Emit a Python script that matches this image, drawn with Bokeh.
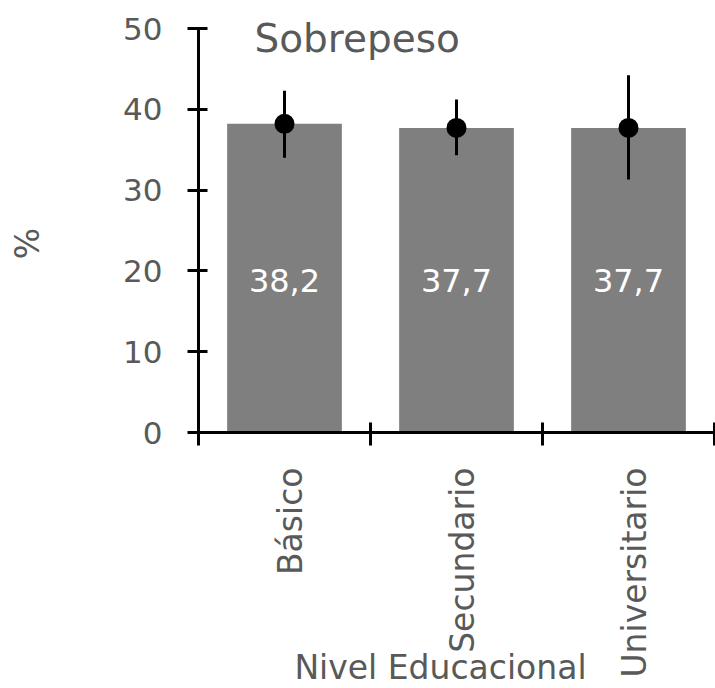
from bokeh.plotting import figure
from bokeh.models import Range1d, FixedTicker, Label, ColumnDataSource, LinearAxis
from bokeh.core.properties import value
from bokeh.embed import file_html
from bokeh.resources import INLINE
import math

categories = ["Básico", "Secundario", "Universitario"]
values = [38.2, 37.7, 37.7]
lower = [34.0, 34.3, 31.3]
upper = [42.3, 41.2, 44.2]
value_labels = ["38,2", "37,7", "37,7"]
y_ticks = [0, 10, 20, 30, 40, 50]
title_text = "Sobrepeso"
x_title = "Nivel Educacional"
y_title = "%"

FONT = "DejaVu Sans"
GRAY = "#595959"

W, H = 715, 688
X0_PX, Y0_PX = 198.0, 432.0      # pixel position of the origin
PX_PER_CAT, PX_PER_UNIT = 172.0, 8.08

xc = [i + 0.5 for i in range(len(categories))]
label_y = (Y0_PX - 280) / PX_PER_UNIT
src = ColumnDataSource(dict(x=xc, top=values, lo=lower, hi=upper,
                            lab=value_labels, ly=[label_y] * len(xc)))

p = figure(width=W, height=H, output_backend="svg", toolbar_location=None,
           x_range=Range1d(-X0_PX / PX_PER_CAT, (W - X0_PX) / PX_PER_CAT),
           y_range=Range1d(-(H - Y0_PX) / PX_PER_UNIT, Y0_PX / PX_PER_UNIT),
           min_border=0, x_axis_type=None, y_axis_type=None)
p.outline_line_color = None
p.grid.visible = False
p.background_fill_color = "white"
p.border_fill_color = "white"

# y axis
ya = LinearAxis(ticker=FixedTicker(ticks=y_ticks), bounds=(0, 50), fixed_location=0)
ya.axis_line_width = 3
ya.axis_line_color = "black"
ya.major_tick_line_width = 3
ya.major_tick_out = 11
ya.major_tick_in = 9
ya.minor_tick_line_color = None
ya.major_label_text_font = FONT
ya.major_label_text_font_size = "31px"
ya.major_label_text_color = GRAY
ya.major_label_standoff = 25
p.add_layout(ya, "left")

# x axis
lab_pos = [x + 0.035 for x in xc]
xa = LinearAxis(ticker=FixedTicker(ticks=lab_pos, minor_ticks=[0, 1, 2, 3]),
                bounds=(0, 3), fixed_location=0)
xa.axis_line_width = 3
xa.axis_line_color = "black"
xa.major_tick_line_color = None
xa.major_tick_out = 0
xa.major_tick_in = 0
xa.minor_tick_line_width = 3
xa.minor_tick_line_color = "black"
xa.minor_tick_out = 13
xa.minor_tick_in = 10
xa.major_label_overrides = {lab_pos[i]: categories[i] for i in range(len(categories))}
xa.major_label_orientation = math.pi / 2
xa.major_label_text_font = FONT
xa.major_label_text_font_size = "33px"
xa.major_label_text_color = GRAY
xa.major_label_standoff = 22
p.add_layout(xa, "below")

p.vbar(x="x", top="top", width=0.667, bottom=0, source=src,
       fill_color="#7f7f7f", line_color=None)
p.segment(x0="x", y0="lo", x1="x", y1="hi", source=src,
          line_color="black", line_width=3)
p.scatter(x="x", y="top", source=src, size=20, marker="circle",
          fill_color="black", line_color=None)
p.text(x="x", y="ly", text="lab", source=src, text_align="center",
       text_baseline="alphabetic", text_color="white",
       text_font=value(FONT), text_font_size="32px")

p.add_layout(Label(x=(254 - X0_PX) / PX_PER_CAT, y=(Y0_PX - 38) / PX_PER_UNIT,
                   text=title_text, text_font=FONT, text_font_size="39px",
                   text_color=GRAY, text_baseline="alphabetic"))
p.add_layout(Label(x=(440 - X0_PX) / PX_PER_CAT, y=(Y0_PX - 667) / PX_PER_UNIT,
                   text=x_title, text_font=FONT, text_font_size="33px",
                   text_color=GRAY, text_align="center", text_baseline="alphabetic"))
p.add_layout(Label(x=(27 - X0_PX) / PX_PER_CAT, y=(Y0_PX - 243) / PX_PER_UNIT,
                   text=y_title, text_font=FONT, text_font_size="33px",
                   text_color=GRAY, text_align="center", text_baseline="middle",
                   angle=math.pi / 2))

open("out.html", "w").write(file_html(p, INLINE))
